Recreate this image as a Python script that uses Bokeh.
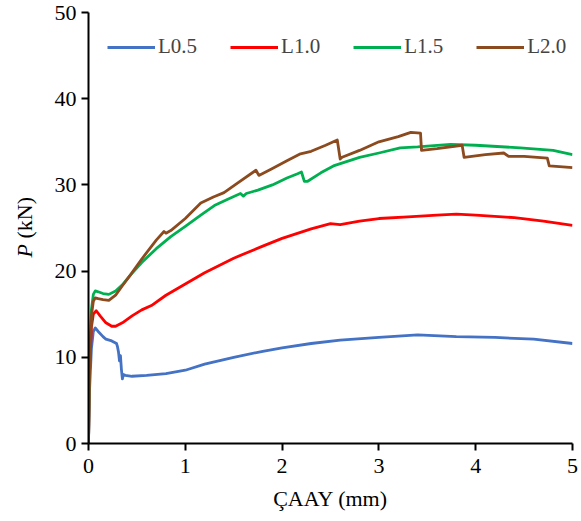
import math
from bokeh.plotting import figure
from bokeh.models import Range1d, Label, Legend, LegendItem, FixedTicker
from bokeh.embed import file_html
from bokeh.resources import INLINE

# ---- data ----
x_l05 = [0, 0.01, 0.03, 0.05, 0.07, 0.10, 0.15, 0.18, 0.24, 0.29, 0.30, 0.31, 0.32, 0.33, 0.34,
         0.35, 0.36, 0.38, 0.45, 0.6, 0.8, 1.0, 1.2, 1.5, 1.8, 2.0, 2.3, 2.6, 3.0, 3.4, 3.8,
         4.2, 4.6, 5.0]
y_l05 = [0, 6.0, 11.0, 13.0, 13.4, 13.0, 12.4, 12.1, 11.9, 11.6, 11.2, 10.6, 9.6, 10.2, 8.6,
         7.5, 8.0, 7.9, 7.8, 7.9, 8.1, 8.5, 9.2, 10.0, 10.7, 11.1, 11.6, 12.0, 12.3, 12.6, 12.4,
         12.3, 12.1, 11.6]

x_l10 = [0, 0.01, 0.03, 0.05, 0.08, 0.12, 0.18, 0.24, 0.28, 0.35, 0.45, 0.55, 0.65, 0.8, 1.0,
         1.2, 1.5, 1.8, 2.0, 2.3, 2.5, 2.6, 2.8, 3.0, 3.3, 3.6, 3.8, 4.0, 4.4, 4.7, 5.0]
y_l10 = [0, 8.0, 13.5, 15.0, 15.4, 14.8, 14.0, 13.6, 13.6, 14.0, 14.8, 15.5, 16.0, 17.2, 18.5,
         19.8, 21.5, 22.9, 23.8, 24.9, 25.5, 25.4, 25.8, 26.1, 26.3, 26.5, 26.6, 26.5, 26.2, 25.8, 25.3]

x_l15 = [0, 0.01, 0.03, 0.05, 0.07, 0.10, 0.15, 0.21, 0.28, 0.35, 0.43, 0.55, 0.7, 0.85, 1.0,
         1.16, 1.3, 1.45, 1.57, 1.6, 1.63, 1.75, 1.9, 2.05, 2.16, 2.2, 2.23, 2.26, 2.4, 2.53,
         2.8, 3.0, 3.22, 3.4, 3.74, 4.0, 4.46, 4.8, 5.0]
y_l15 = [0, 9.0, 15.5, 17.3, 17.7, 17.6, 17.4, 17.3, 17.7, 18.4, 19.5, 21.0, 22.6, 24.0, 25.2,
         26.5, 27.6, 28.4, 29.0, 28.7, 29.0, 29.4, 30.0, 30.8, 31.3, 31.5, 30.4, 30.4, 31.4, 32.2,
         33.2, 33.7, 34.3, 34.4, 34.7, 34.6, 34.3, 34.0, 33.5]

x_l20 = [0, 0.01, 0.03, 0.05, 0.07, 0.10, 0.15, 0.21, 0.28, 0.35, 0.43, 0.55, 0.7, 0.78, 0.8,
         0.85, 1.0, 1.16, 1.29, 1.4, 1.55, 1.73, 1.76, 1.9, 2.05, 2.19, 2.3, 2.45, 2.57, 2.6,
         2.62, 2.8, 3.0, 3.2, 3.33, 3.43, 3.44, 3.6, 3.86, 3.88, 4.1, 4.29, 4.34, 4.5, 4.74,
         4.76, 4.9, 5.0]
y_l20 = [0, 8.0, 14.8, 16.5, 16.9, 16.8, 16.7, 16.6, 17.2, 18.3, 19.5, 21.4, 23.6, 24.6, 24.4,
         24.7, 26.1, 27.9, 28.6, 29.1, 30.3, 31.7, 31.1, 31.9, 32.8, 33.6, 33.9, 34.6, 35.2, 33.0,
         33.2, 34.0, 35.0, 35.6, 36.1, 36.0, 34.0, 34.2, 34.6, 33.2, 33.5, 33.7, 33.3, 33.3, 33.1,
         32.2, 32.1, 32.0]

series_names = ["L0.5", "L1.0", "L1.5", "L2.0"]
series_colors = ["#4472C4", "#FF0000", "#00B050", "#8C4A1F"]
x_ticks = [0, 1, 2, 3, 4, 5]
y_ticks = [0, 10, 20, 30, 40, 50]

FONT = "Liberation Serif"

p = figure(width=581, height=521, output_backend="svg", toolbar_location=None,
           x_range=Range1d(0, 5), y_range=Range1d(0, 50),
           min_border_left=88, min_border_right=9, min_border_top=12, min_border_bottom=78)
p.outline_line_color = None
p.xgrid.visible = False
p.ygrid.visible = False
p.background_fill_color = "white"
p.border_fill_color = "white"

renderers = []
for xs, ys, c in zip([x_l05, x_l10, x_l15, x_l20], [y_l05, y_l10, y_l15, y_l20], series_colors):
    r = p.line(xs, ys, line_color=c, line_width=2.8, line_join="round")
    renderers.append(r)

for ax, ticks in ((p.xaxis[0], x_ticks), (p.yaxis[0], y_ticks)):
    ax.ticker = FixedTicker(ticks=ticks)
    ax.axis_line_color = "black"
    ax.axis_line_width = 2
    ax.major_tick_line_color = "black"
    ax.major_tick_line_width = 2
    ax.major_tick_out = 7
    ax.major_tick_in = 0
    ax.minor_tick_line_color = None
    ax.major_label_text_font = FONT
    ax.major_label_text_font_size = "22px"
    ax.major_label_text_color = "black"

p.xaxis[0].major_label_standoff = 8
p.yaxis[0].major_label_standoff = 5
p.xaxis[0].axis_label = "ÇAAY (mm)"
p.xaxis[0].axis_label_text_font = FONT
p.xaxis[0].axis_label_text_font_size = "22px"
p.xaxis[0].axis_label_text_font_style = "normal"
p.xaxis[0].axis_label_text_color = "black"
p.xaxis[0].axis_label_standoff = 10

# y-axis title with italic P, placed in the left side panel (canvas coordinates)
p.add_layout(Label(x=24, y=257, x_units="canvas", y_units="canvas", text="P",
                   angle=math.pi / 2, text_align="left", text_baseline="middle",
                   text_font=FONT, text_font_size="22px", text_font_style="italic",
                   text_color="black"), "left")
p.add_layout(Label(x=24, y=238, x_units="canvas", y_units="canvas", text="(kN)",
                   angle=math.pi / 2, text_align="left", text_baseline="middle",
                   text_font=FONT, text_font_size="22px", text_color="black"), "left")

legend = Legend(items=[LegendItem(label=n, renderers=[r]) for n, r in zip(series_names, renderers)],
                orientation="horizontal", location=(19, 384), border_line_color=None,
                background_fill_alpha=0, label_text_font=FONT, label_text_font_size="21px",
                glyph_width=48, label_standoff=3, spacing=33, padding=0, margin=0)
p.add_layout(legend)

open("out.html", "w").write(file_html(p, INLINE))
